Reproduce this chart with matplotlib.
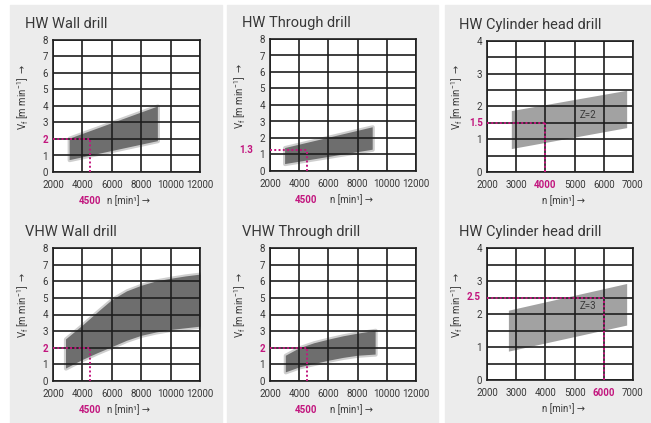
import numpy as np
import matplotlib
matplotlib.use("Agg")
from matplotlib import pyplot as plt
from matplotlib.patches import Rectangle

plt.rcParams['font.family'] = ['Roboto', 'DejaVu Sans']

# band data: spindle speed n [1/min], feed rate Vf lower / upper [m/min]
hw_wall_n = [3100, 9100]
hw_wall_lo = [0.75, 1.9]
hw_wall_hi = [2.05, 4.0]

hw_through_n = [3000, 9000]
hw_through_lo = [0.45, 1.32]
hw_through_hi = [1.42, 2.68]

cyl_z2_n = [2850, 6800]
cyl_z2_lo = [0.7, 1.34]
cyl_z2_hi = [1.86, 2.48]

vhw_wall_n = [2850, 4000, 5000, 6000, 7000, 8000, 9000, 10000, 11000, 12000]
vhw_wall_lo = [0.78, 1.3, 1.7, 2.07, 2.45, 2.75, 2.95, 3.1, 3.2, 3.3]
vhw_wall_hi = [2.53, 3.37, 4.15, 4.9, 5.42, 5.76, 6.02, 6.18, 6.32, 6.43]

vhw_through_n = [3050, 4000, 5000, 6000, 7000, 8000, 9200]
vhw_through_lo = [0.55, 0.85, 1.05, 1.25, 1.42, 1.55, 1.62]
vhw_through_hi = [1.55, 2.0, 2.3, 2.52, 2.72, 2.88, 3.05]

cyl_z3_n = [2750, 6800]
cyl_z3_lo = [0.86, 1.65]
cyl_z3_hi = [2.1, 2.91]

drill_xticks = [2000, 4000, 6000, 8000, 10000, 12000]
drill_yticks = [0, 1, 2, 3, 4, 5, 6, 7, 8]
cyl_xticks = [2000, 3000, 4000, 5000, 6000, 7000]
cyl_yticks = [0, 1, 2, 3, 4]

W, H = 651, 423
MAGENTA = '#c2167e'
TXT = '#383838'
GRID = '#1e1e1e'

fig = plt.figure(figsize=(W / 100, H / 100), dpi=100)

# light grey columns behind the panels
for x0, x1 in [(10, 222), (227, 438), (445, 651)]:
    fig.patches.append(Rectangle((x0 / W, 0), (x1 - x0) / W, (H - 5) / H,
                                 transform=fig.transFigure, color='#ececec', zorder=-5))


def panel(l, t, r, b, title, n, lo, hi, color, soft, xticks, yticks,
          sel_n, sel_v, ylab_off, xlab_pos, note=None):
    ax = fig.add_axes([l / W, 1 - b / H, (r - l) / W, (b - t) / H])
    ax.set_facecolor('white')
    if soft:
        # soft edge: a wider translucent outline around the band
        ax.fill_between(n, lo, hi, facecolor=color, edgecolor=color + '55', linewidth=3)
    else:
        ax.fill_between(n, lo, hi, facecolor=color, linewidth=0)
    ax.set_xlim(xticks[0], xticks[-1])
    ax.set_ylim(yticks[0], yticks[-1])
    ax.set_xticks(xticks)
    ax.set_yticks(yticks)
    if len(yticks) < 8:
        ax.set_yticks(np.arange(yticks[0], yticks[-1], 0.5), minor=True)
    ax.grid(True, which='both', color=GRID, linewidth=1.2)
    ax.tick_params(which='both', length=0, labelsize=7, labelcolor=TXT)
    ax.tick_params(axis='x', pad=5.5)
    ax.tick_params(axis='y', pad=3.5)
    for s in ax.spines.values():
        s.set_color(GRID)
        s.set_linewidth(1.2)

    # dotted guide lines
    ax.plot([xticks[0], sel_n], [sel_v, sel_v], color=MAGENTA, lw=1.4,
            ls=(0, (1, 1.2)), zorder=3, clip_on=False)
    ax.plot([sel_n, sel_n], [yticks[0], sel_v], color=MAGENTA, lw=1.4,
            ls=(0, (1, 1.2)), zorder=3, clip_on=False)

    if sel_v in yticks:
        lab = ax.get_yticklabels()[yticks.index(sel_v)]
        lab.set_color(MAGENTA)
        lab.set_fontweight('bold')
    else:
        ax.annotate(str(sel_v), (0, sel_v), xycoords=('axes fraction', 'data'),
                    xytext=(-ylab_off, 0), textcoords='offset pixels',
                    ha='right', va='center', fontsize=7, color=MAGENTA, fontweight='bold')
    if sel_n in xticks:
        lab = ax.get_xticklabels()[xticks.index(sel_n)]
        lab.set_color(MAGENTA)
        lab.set_fontweight('bold')
    else:
        ax.annotate(str(sel_n), (sel_n, 0), xycoords=('data', 'axes fraction'),
                    xytext=(0, -29), textcoords='offset pixels',
                    ha='center', va='center', fontsize=7, color=MAGENTA, fontweight='bold')

    ax.text(xlab_pos, -29 / (b - t), 'n [min¹] →', transform=ax.transAxes,
            fontsize=7, color=TXT, ha='left', va='center')
    fig.text((l - 30) / W, 1 - ((t + b) / 2 - 9) / H,
             r'$\mathregular{V_f}$ [m min$^\mathregular{-1}$] $\rightarrow$', rotation=90,
             fontsize=7, color=TXT, ha='center', va='center')
    fig.text((l - 28) / W, 1 - (t - 12) / H, title, fontsize=10.5, color=TXT,
             ha='left', va='baseline')
    if note:
        ax.text(note[0], note[1], note[2], fontsize=7, color=TXT, ha='center', va='center')
    return ax


panel(53, 40, 200, 172, 'HW Wall drill', hw_wall_n, hw_wall_lo, hw_wall_hi,
      '#6e6e6e', True, drill_xticks, drill_yticks, 4500, 2, 0, 0.37)
panel(270, 39, 416, 171, 'HW Through drill', hw_through_n, hw_through_lo, hw_through_hi,
      '#6e6e6e', True, drill_xticks, drill_yticks, 4500, 1.3, 17, 0.41)
panel(487, 41, 633, 172, 'HW Cylinder head drill', cyl_z2_n, cyl_z2_lo, cyl_z2_hi,
      '#a2a2a2', False, cyl_xticks, cyl_yticks, 4000, 1.5, 4, 0.38, (5450, 1.75, 'Z=2'))
panel(53, 248, 200, 381, 'VHW Wall drill', vhw_wall_n, vhw_wall_lo, vhw_wall_hi,
      '#6e6e6e', True, drill_xticks, drill_yticks, 4500, 2, 0, 0.37)
panel(270, 248, 416, 381, 'VHW Through drill', vhw_through_n, vhw_through_lo, vhw_through_hi,
      '#6e6e6e', True, drill_xticks, drill_yticks, 4500, 2, 0, 0.41)
panel(487, 248, 633, 380, 'HW Cylinder head drill', cyl_z3_n, cyl_z3_lo, cyl_z3_hi,
      '#a2a2a2', False, cyl_xticks, cyl_yticks, 6000, 2.5, 6, 0.38, (5450, 2.25, 'Z=3'))

plt.savefig('out.png', dpi=100)
